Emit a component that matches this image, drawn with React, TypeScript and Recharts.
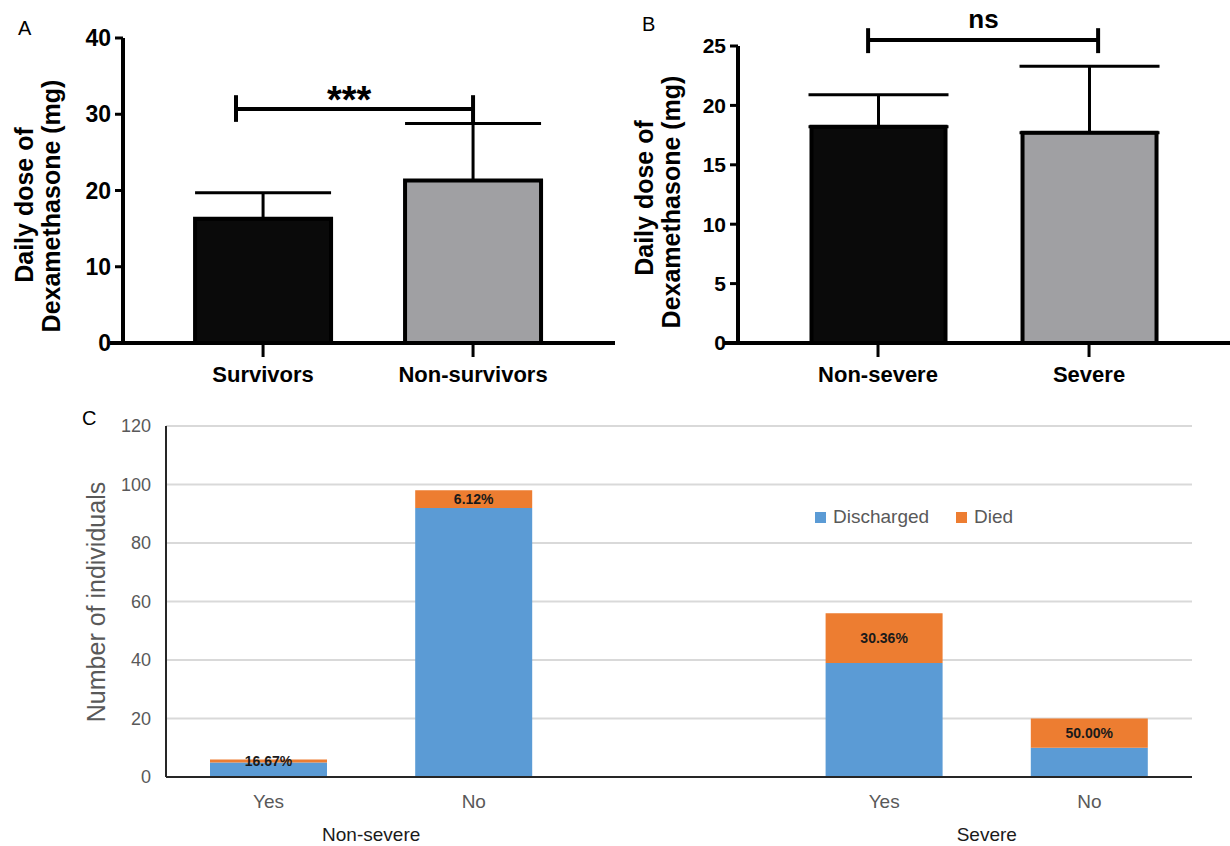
import React from 'react';
import {
  Bar,
  BarChart,
  CartesianGrid,
  Cell,
  ErrorBar,
  LabelList,
  Legend,
  ReferenceDot,
  ReferenceLine,
  XAxis,
  YAxis,
} from 'recharts';

const FONT = '"Liberation Sans", Arial, Helvetica, sans-serif';

// Panel A: dose by outcome
const groupsA = ['Survivors', 'Non-survivors'];
const meanA = [16.3, 21.3];
const sdA = [3.4, 7.5];
const ticksA = [0, 10, 20, 30, 40];
const sigA = { text: '***', from: -0.129, to: 1, line: 30.7, legTop: 32.5, legLeft: 29.0, legRight: 28.8, textX: 0.41, textY: 30.2 };

// Panel B: dose by severity
const groupsB = ['Non-severe', 'Severe'];
const meanB = [18.2, 17.7];
const sdB = [2.7, 5.6];
const ticksB = [0, 5, 10, 15, 20, 25];
const sigB = { text: 'ns', from: -0.047, to: 1.043, line: 25.5, legTop: 26.5, legLeft: 24.4, legRight: 24.4, textX: 0.5, textY: 26.5 };

const barFills = ['#0a0a0a', '#a0a0a3'];

// Panel C: outcomes per group
const categoriesC = ['Yes', 'No', '', 'Yes', 'No'];
const severityOfCat = [0, 0, -1, 1, 1];
const severityNames = ['Non-severe', 'Severe'];
const seriesC = ['Discharged', 'Died'];
const discharged = [5, 92, null, 39, 10];
const died = [1, 6, null, 17, 10];
const diedPct = ['16.67%', '6.12%', '', '30.36%', '50.00%'];
const ticksC = [0, 20, 40, 60, 80, 100, 120];

type Line = { text: string; x: number; y: number };

function RotatedLines({ lines, size, weight = 700, fill = '#000' }: { lines: Line[]; size: number; weight?: number; fill?: string }) {
  return (
    <g>
      {lines.map((l, i) => (
        <text
          key={i}
          transform={`translate(${l.x},${l.y}) rotate(-90)`}
          textAnchor="middle"
          dominantBaseline="central"
          fontFamily={FONT}
          fontWeight={weight}
          fontSize={size}
          fill={fill}
        >
          {l.text}
        </text>
      ))}
    </g>
  );
}

function SigText(props: any) {
  const { viewBox, text, size } = props;
  if (!viewBox) return null;
  return (
    <text x={viewBox.x + (viewBox.width || 0) / 2} y={viewBox.y + (viewBox.height || 0) / 2} textAnchor="middle" fontFamily={FONT} fontWeight={700} fontSize={size} fill="#000">
      {text}
    </text>
  );
}

function PrismPanel(props: any) {
  const { names, means, sds, yTicks, sig, xDomain, axisStart, width, plotTop, yAxisWidth, barSize, capWidth, tickSize, yLabel, sigSize } = props;
  const data = names.map((name: string, i: number) => ({ pos: i, name, mean: means[i], err: [0, sds[i]] }));
  const yMax = yTicks[yTicks.length - 1];
  return (
    <BarChart width={width} height={400} data={data} margin={{ top: plotTop, right: props.rightMargin, bottom: 7, left: 0 }}>
      <XAxis
        type="number"
        dataKey="pos"
        domain={xDomain}
        allowDataOverflow
        ticks={[0, 1]}
        interval={0}
        tickFormatter={(v: number) => names[v]}
        axisLine={false}
        tickLine={{ stroke: '#000', strokeWidth: 3 }}
        tickSize={14}
        tickMargin={9}
        height={50}
        tick={{ fill: '#000', fontSize: 22, fontWeight: 700, fontFamily: FONT }}
      />
      <YAxis
        domain={[0, yMax]}
        ticks={yTicks}
        allowDataOverflow
        interval={0}
        width={yAxisWidth}
        axisLine={{ stroke: '#000', strokeWidth: 4 }}
        tickLine={{ stroke: '#000', strokeWidth: 3 }}
        tickSize={8}
        tickMargin={4}
        tick={{ fill: '#000', fontSize: tickSize, fontWeight: 700, fontFamily: FONT }}
        label={<RotatedLines lines={yLabel} size={25} />}
      />
      <Bar dataKey="mean" barSize={barSize} stroke="#000" strokeWidth={4} isAnimationActive={false}>
        {data.map((_: any, i: number) => (
          <Cell key={i} fill={barFills[i]} />
        ))}
        <ErrorBar dataKey="err" direction="y" width={capWidth} stroke="#000" strokeWidth={3} />
      </Bar>
      <ReferenceLine segment={[{ x: axisStart, y: 0 }, { x: xDomain[1], y: 0 }]} stroke="#000" strokeWidth={4} ifOverflow="visible" />
      <ReferenceLine segment={[{ x: sig.from, y: sig.line }, { x: sig.to, y: sig.line }]} stroke="#000" strokeWidth={4} ifOverflow="visible" />
      <ReferenceLine segment={[{ x: sig.from, y: sig.legTop }, { x: sig.from, y: sig.legLeft }]} stroke="#000" strokeWidth={4} ifOverflow="visible" />
      <ReferenceLine segment={[{ x: sig.to, y: sig.legTop }, { x: sig.to, y: sig.legRight }]} stroke="#000" strokeWidth={4} ifOverflow="visible" />
      <ReferenceDot x={sig.textX} y={sig.textY} r={0} ifOverflow="visible" fill="none" stroke="none" label={<SigText text={sig.text} size={sigSize} />} />
    </BarChart>
  );
}

function LegendC({ payload }: any) {
  const items = [...(payload || [])].sort((a: any, b: any) => seriesC.indexOf(a.value) - seriesC.indexOf(b.value));
  return (
    <div style={{ display: 'flex', alignItems: 'center', fontFamily: FONT, fontSize: 19, color: '#595959', whiteSpace: 'nowrap' }}>
      {items.map((p: any, i: number) => (
        <span key={i} style={{ display: 'flex', alignItems: 'center', marginRight: 27 }}>
          <span style={{ display: 'inline-block', width: 11, height: 11, background: p.color, marginRight: 7 }} />
          {p.value}
        </span>
      ))}
    </div>
  );
}

const letterStyle: React.CSSProperties = { position: 'absolute', fontFamily: FONT, fontSize: 20, lineHeight: '20px', color: '#000' };

export default function App() {
  const dataC = categoriesC.map((cat, i) => ({ idx: i, cat, discharged: discharged[i], died: died[i], pct: diedPct[i] }));
  const groupCenters = severityNames.map((_, g) => {
    const idx = severityOfCat.map((s, i) => (s === g ? i : -1)).filter((i) => i >= 0);
    return idx.reduce((a, b) => a + b, 0) / idx.length + 0.5;
  });

  return (
    <div style={{ position: 'absolute', left: 0, top: 0, width: 1230, height: 846, background: '#fff', overflow: 'hidden' }}>
      <div style={{ ...letterStyle, left: 18, top: 18 }}>A</div>
      <div style={{ ...letterStyle, left: 642, top: 14 }}>B</div>
      <div style={{ ...letterStyle, left: 82, top: 408 }}>C</div>

      <div style={{ position: 'absolute', left: 0, top: 0 }}>
        <PrismPanel
          names={groupsA}
          means={meanA}
          sds={sdA}
          yTicks={ticksA}
          sig={sigA}
          xDomain={[-0.667, 1.676]}
          axisStart={-0.729}
          width={620}
          rightMargin={5}
          plotTop={38}
          yAxisWidth={123}
          barSize={136}
          capWidth={68}
          tickSize={23}
          yLabel={[
            { text: 'Daily dose of', x: 24, y: 205 },
            { text: 'Dexamethasone (mg)', x: 51, y: 206 },
          ]}
          sigSize={38}
        />
      </div>

      <div style={{ position: 'absolute', left: 620, top: 0 }}>
        <PrismPanel
          names={groupsB}
          means={meanB}
          sds={sdB}
          yTicks={ticksB}
          sig={sigB}
          xDomain={[-0.6635, 1.668]}
          axisStart={-0.735}
          width={610}
          rightMargin={0}
          plotTop={46}
          yAxisWidth={118}
          barSize={134}
          capWidth={70}
          tickSize={21}
          yLabel={[
            { text: 'Daily dose of', x: 24, y: 198 },
            { text: 'Dexamethasone (mg)', x: 51, y: 202 },
          ]}
          sigSize={26}
        />
      </div>

      <div style={{ position: 'absolute', left: 0, top: 400 }}>
        <BarChart width={1230} height={446} data={dataC} margin={{ top: 26, right: 38, bottom: 0, left: 0 }}>
          <CartesianGrid vertical={false} stroke="#d9d9d9" strokeWidth={2} />
          <XAxis
            dataKey="cat"
            interval={0}
            axisLine={{ stroke: '#262626', strokeWidth: 2 }}
            tickLine={false}
            tickSize={0}
            tickMargin={18}
            height={40}
            tick={{ fill: '#595959', fontSize: 19, fontFamily: FONT }}
          />
          <XAxis
            xAxisId="grp"
            type="number"
            dataKey="idx"
            domain={[0, categoriesC.length]}
            allowDataOverflow
            ticks={groupCenters}
            interval={0}
            tickFormatter={(v: number) => severityNames[groupCenters.indexOf(v)] ?? ''}
            axisLine={false}
            tickLine={false}
            tickSize={0}
            tickMargin={11}
            height={29}
            tick={{ fill: '#1a1a1a', fontSize: 19, fontFamily: FONT }}
          />
          <YAxis
            domain={[0, 120]}
            ticks={ticksC}
            interval={0}
            width={166}
            axisLine={{ stroke: '#262626', strokeWidth: 2 }}
            tickLine={false}
            tickSize={0}
            tickMargin={15}
            tick={{ fill: '#595959', fontSize: 18, fontFamily: FONT }}
            label={<RotatedLines lines={[{ text: 'Number of individuals', x: 96, y: 202 }]} size={25} weight={400} fill="#595959" />}
          />
          <Legend layout="horizontal" verticalAlign="middle" align="center" content={<LegendC />} wrapperStyle={{ left: 815, top: 106, width: 'auto' }} />
          <Bar dataKey="discharged" name={seriesC[0]} stackId="s" fill="#5b9bd5" barSize={117} isAnimationActive={false} />
          <Bar dataKey="died" name={seriesC[1]} stackId="s" fill="#ed7d31" barSize={117} isAnimationActive={false}>
            <LabelList dataKey="pct" position="center" fill="#1a1a1a" fontSize={14} fontWeight={700} fontFamily={FONT} />
          </Bar>
        </BarChart>
      </div>
    </div>
  );
}
